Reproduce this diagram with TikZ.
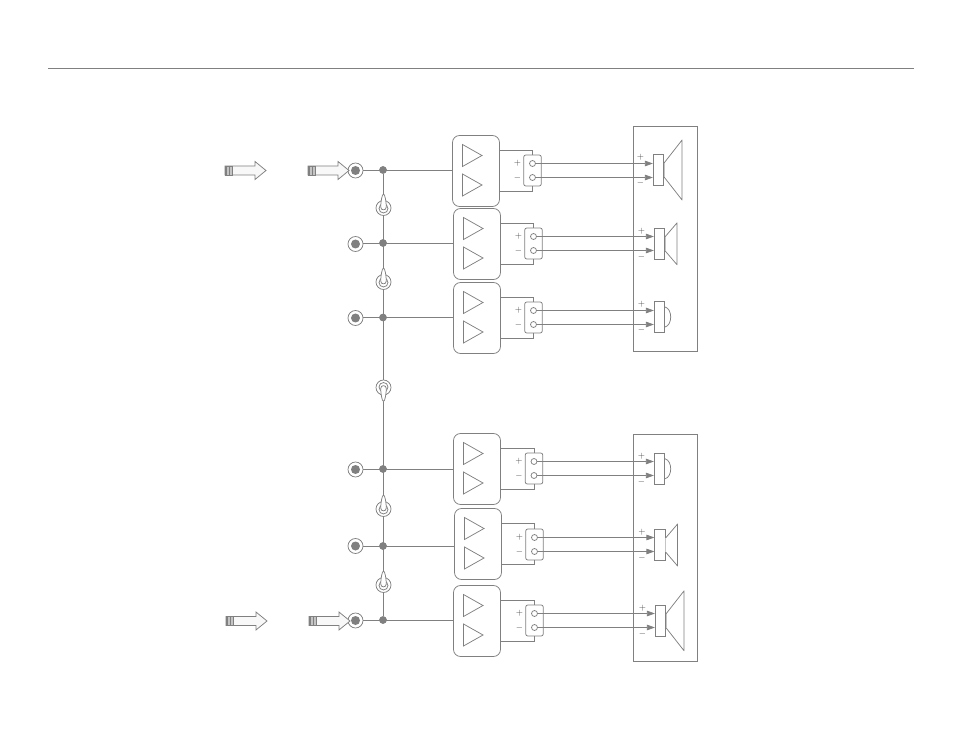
\documentclass[tikz,border=0pt]{standalone}
\usepackage{amsmath,amssymb}
\usepackage{tikz}
\usetikzlibrary{arrows.meta}

\definecolor{linegray}{HTML}{808080}
\definecolor{softgray}{HTML}{C4C4C4}

\tikzset{
  line/.style={draw=linegray,line width=0.75pt},
  ampbox/.style={line,rounded corners=7pt,minimum width=47pt,minimum height=71pt,inner sep=0pt},
  termbox/.style={line,rounded corners=2pt,minimum width=17.5pt,minimum height=31pt,inner sep=0pt},
  pinhole/.style={line,circle,fill=white,minimum size=6pt,inner sep=0pt},
  junction/.style={circle,fill=linegray,minimum size=7.5pt,inner sep=0pt},
  jackring/.style={line,circle,fill=white,minimum size=15pt,inner sep=0pt},
  jackcore/.style={circle,fill=linegray,minimum size=9pt,inner sep=0pt},
  driverbox/.style={line,fill=white,minimum width=10.4pt,minimum height=31pt,inner sep=0pt},
  sign/.style={text=linegray!55!black,inner sep=0pt,font=\fontsize{9}{9}\selectfont},
  wire/.style={line,-{Triangle[length=8pt,width=5.5pt,color=linegray]}},
  toggle/.pic={
    \node[jackring] (-ring) at (0,0) {};
    \node[line,circle,minimum size=9pt,inner sep=0pt] (-hub) at (0,0.5) {};
    \draw[line,fill=white] (0,-14) .. controls (1.4,-14) and (2.8,-6) .. (2.8,-1)
      .. controls (2.8,2.8) and (-2.8,2.8) .. (-2.8,-1)
      .. controls (-2.8,-6) and (-1.4,-14) .. (0,-14);
  },
  feedarrow/.pic={
    \draw[line,fill=softgray!12] (0,-4.5) -- (30,-4.5) -- (30,-9) -- (41,0) -- (30,9) -- (30,4.5) -- (0,4.5) -- cycle;
    \fill[softgray] (0,-4.5) rectangle (7,4.5);
    \fill[linegray] (0,-4.5) rectangle (1.8,4.5);
    \fill[linegray] (3.5,-4.5) rectangle (4.7,4.5);
    \draw[line] (0,-4.5) rectangle (7,4.5);
  },
}

\begin{document}
\begin{tikzpicture}[x=1pt,y=-1pt]
  \useasboundingbox (0,0) rectangle (954,738);

  \coordinate (ruleL) at (48,68.5);
  \coordinate (ruleR) at (914,68.5);
  \draw[line] (ruleL) -- (ruleR);

  % cabinets
  \node[line,minimum width=64pt,minimum height=225pt,inner sep=0pt] (cabA) at (665.5,239) {};
  \node[line,minimum width=64pt,minimum height=227pt,inner sep=0pt] (cabB) at (665.5,548) {};

  % one channel per row
  \foreach \r/\ax/\ay/\jy/\dy/\tx/\ty/\sx/\sy in {
      1/476/171/170.5/170/532.5/170.5/658.5/170,
      2/477/244/244/243/533.5/243.5/659.5/243.8,
      3/477/318/318/317.5/533.5/317.5/659.5/317,
      4/477/469/469.5/469/534/468.5/659.5/468.8,
      5/478/544/546/546/534.5/544.5/660/545,
      6/477/621/620.5/620/534.5/620.5/660.5/620.8} {
    \node[ampbox] (amp\r) at (\ax,\ay) {};
    \node[jackring] (jack\r) at (355.5,\jy) {};
    \node[jackcore] (core\r) at (jack\r) {};
    \node[junction] (dot\r) at (383,\dy) {};
    \draw[line] (jack\r.east |- dot\r) -- (amp\r.west |- dot\r);

    \draw[line] ([shift={(-13.5,-26.5)}]amp\r.center) -- ++(19.5,11) -- ++(-19.5,11) -- cycle;
    \draw[line] ([shift={(-13.5,3)}]amp\r.center) -- ++(19.5,11) -- ++(-19.5,11) -- cycle;

    \node[termbox] (term\r) at (\tx,\ty) {};
    \draw[line] ([yshift=20.5pt]amp\r.east) -| (term\r.north);
    \draw[line] ([yshift=-20.5pt]amp\r.east) -| (term\r.south);
    \node[pinhole] (pinP\r) at ([shift={(0,-7)}]term\r.center) {};
    \node[pinhole] (pinN\r) at ([shift={(0,7)}]term\r.center) {};
    \node[sign] (plus\r) at ([shift={(-6,-7)}]term\r.west) {$+$};
    \node[sign] (minus\r) at ([shift={(-6,7.5)}]term\r.west) {$-$};

    \node[driverbox] (drv\r) at (\sx,\sy) {};
    \draw[wire] (pinP\r.east) -- (drv\r.west |- pinP\r);
    \draw[wire] (pinN\r.east) -- (drv\r.west |- pinN\r);
    \node[sign] (drvplus\r) at ([shift={(-12.5,-12.5)}]drv\r.west) {$+$};
    \node[sign] (drvminus\r) at ([shift={(-12.5,13)}]drv\r.west) {$-$};
  }

  % woofers and mids
  \foreach \r/\cw/\ch in {1/18/30,6/18/30,2/12/21,5/12/21} {
    \draw[line,line join=round] ([yshift=7pt]drv\r.east) -- ++(\cw,-\ch+7) -- ++(0,2*\ch) -- ([yshift=-7pt]drv\r.east);
    \draw[softgray,line width=1pt] ([yshift=7pt]drv\r.east) -- ([yshift=-7pt]drv\r.east);
  }
  % tweeters
  \foreach \r in {3,4} {
    \draw[line] ([yshift=10pt]drv\r.east) .. controls +(7.5,2) and +(7.5,-2) .. ([yshift=-10pt]drv\r.east);
  }

  % bus and switches
  \draw[line] (dot1) -- (dot6);
  \foreach \r in {1,...,6} {
    \node[junction] at (dot\r) {};
  }
  \pic (swA) at (383.5,208) {toggle};
  \pic (swB) at (383.5,282) {toggle};
  \pic[yscale=-1] (swC) at (383.5,387.5) {toggle};
  \pic (swD) at (383.5,509) {toggle};
  \pic (swE) at (383.5,585) {toggle};

  % inputs
  \pic (inA) at (225,170.5) {feedarrow};
  \pic (inB) at (308,170.5) {feedarrow};
  \pic (inC) at (226,621) {feedarrow};
  \pic (inD) at (309,621) {feedarrow};
\end{tikzpicture}
\end{document}
